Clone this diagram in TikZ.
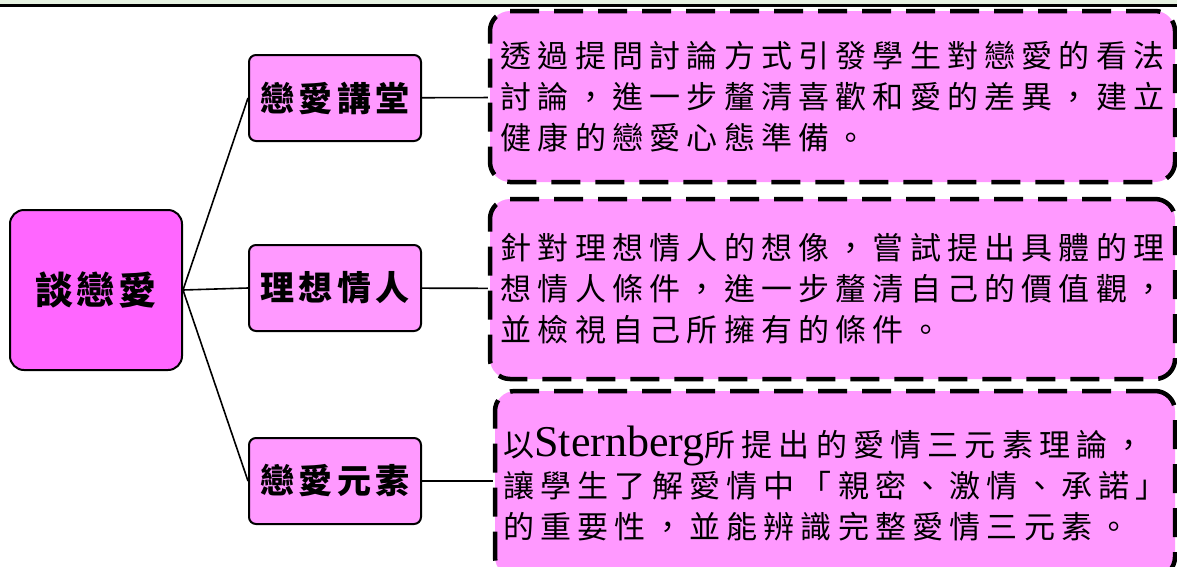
\documentclass[tikz,border=0pt]{standalone}
\usepackage{fontspec}
\newfontfamily\cjk{Noto Sans CJK TC}
\newfontfamily\latin{Liberation Serif}
\definecolor{rootpink}{RGB}{255,102,255}
\definecolor{boxpink}{RGB}{255,153,255}
\definecolor{bandgreen}{RGB}{230,242,225}

\begin{document}
\begin{tikzpicture}[x=1pt,y=-1pt,
	root/.style={draw,line width=2pt,rounded corners=14pt,fill=rootpink,minimum width=172pt,minimum height=160pt,font=\cjk\bfseries\fontsize{38}{40}\selectfont\addfontfeature{LetterSpace=8}},
	topic/.style={draw,line width=2pt,rounded corners=7pt,fill=boxpink,minimum width=172pt,minimum height=86pt,font=\cjk\bfseries\fontsize{34}{40}\selectfont\addfontfeature{LetterSpace=13}},
	detail/.style={draw,line width=4.5pt,dash pattern=on 29pt off 15pt,rounded corners=20pt,fill=boxpink,minimum width=685pt,align=left,font=\cjk\fontsize{31}{41}\selectfont\addfontfeature{LetterSpace=20}}]

	\useasboundingbox (0,0) rectangle (1177,566);
	\fill [bandgreen] (0,0) rectangle (1177,5);
	\draw [line width=3pt] (0,5.5) -- (1177,5.5);

	\node [root]	(r)		at (96,290)		{談戀愛};
	\node [topic]	(t_1)	at (335,98)		{戀愛講堂};
	\node [topic]	(t_2)	at (335,288)	{理想情人};
	\node [topic]	(t_3)	at (335,481)	{戀愛元素};

	\node [detail,minimum height=171pt]	(d_1)	at (832.5,96.5)	{透過提問討論方式引發學生對戀愛的看法\\討論，進一步釐清喜歡和愛的差異，建立\\健康的戀愛心態準備。};
	\node [detail,minimum height=180pt]	(d_2)	at (832.5,289)	{針對理想情人的想像，嘗試提出具體的理\\想情人條件，進一步釐清自己的價值觀，\\並檢視自己所擁有的條件。};
	\node [detail,minimum height=186pt,minimum width=680pt]	(d_3)	at (835,484)	{以{\latin\fontsize{44}{41}\selectfont Sternberg}所提出的愛情三元素理論，\\讓學生了解愛情中「親密、激情、承諾」\\的重要性，並能辨識完整愛情三元素。};

	\path [line width=1.6pt]	(r.east) edge (t_1.west)
				(r.east) edge (t_2.west)
				(r.east) edge (t_3.west)
				(t_1) edge (d_1)
				(t_2) edge (d_2)
				(t_3) edge (d_3.west |- t_3);

\end{tikzpicture}
\end{document}
